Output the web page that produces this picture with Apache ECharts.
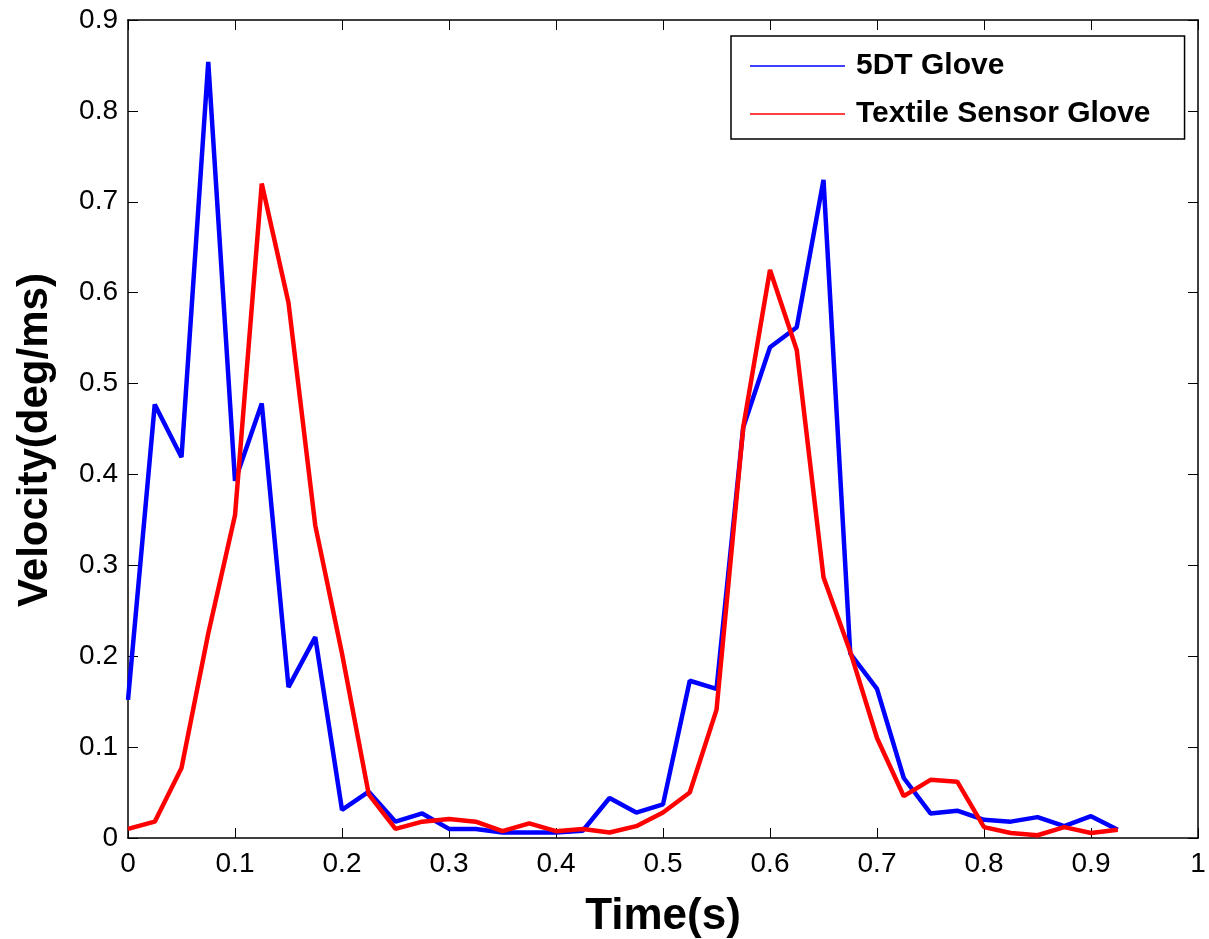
<!DOCTYPE html>
<html>
<head>
<meta charset="utf-8">
<script src="https://cdn.jsdelivr.net/npm/echarts@6/dist/echarts.min.js"></script>
<style>html,body{margin:0;padding:0;background:#fff}#c{width:1209px;height:939px}</style>
</head>
<body>
<div id="c"></div>
<script>
var times = [0, 0.025, 0.05, 0.075, 0.1, 0.125, 0.15, 0.175, 0.2, 0.225, 0.25, 0.275, 0.3, 0.325, 0.35, 0.375, 0.4, 0.425, 0.45, 0.475, 0.5, 0.525, 0.55, 0.575, 0.6, 0.625, 0.65, 0.675, 0.7, 0.725, 0.75, 0.775, 0.8, 0.825, 0.85, 0.875, 0.9, 0.925];
var glove5DT = [0.152, 0.477, 0.419, 0.854, 0.393, 0.478, 0.166, 0.221, 0.031, 0.051, 0.018, 0.027, 0.010, 0.010, 0.006, 0.006, 0.006, 0.008, 0.044, 0.028, 0.037, 0.173, 0.164, 0.452, 0.540, 0.562, 0.724, 0.203, 0.164, 0.066, 0.027, 0.030, 0.020, 0.018, 0.023, 0.013, 0.024, 0.009];
var textileGlove = [0.010, 0.018, 0.077, 0.225, 0.355, 0.720, 0.589, 0.344, 0.203, 0.048, 0.010, 0.018, 0.021, 0.018, 0.0075, 0.016, 0.0075, 0.010, 0.006, 0.013, 0.028, 0.050, 0.141, 0.452, 0.625, 0.537, 0.287, 0.205, 0.110, 0.046, 0.064, 0.062, 0.012, 0.0055, 0.003, 0.012, 0.0055, 0.009];
var seriesNames = ['5DT Glove', 'Textile Sensor Glove'];
var xTitle = 'Time(s)';
var yTitle = 'Velocity(deg/ms)';

function pairs(ys) { return times.map(function (t, i) { return [t, ys[i]]; }); }

var FONT = 'Liberation Sans, Arial, Helvetica, sans-serif';
var chart = echarts.init(document.getElementById('c'), null, { renderer: 'canvas' });
var axisLine = { show: true, onZero: false, lineStyle: { color: '#000', width: 1.5 } };
var tick = { show: true, inside: true, length: 10, lineStyle: { color: '#000', width: 1 } };
chart.setOption({
  backgroundColor: '#fff',
  animation: false,
  grid: { left: 128, right: 11, top: 20, bottom: 101, containLabel: false, outerBoundsMode: 'none' },
  legend: {
    data: seriesNames,
    orient: 'vertical',
    left: 731,
    top: 36,
    padding: [15, 34, 10, 19],
    itemGap: 18,
    itemWidth: 95,
    itemHeight: 1.5,
    icon: 'rect',
    borderColor: '#000',
    borderWidth: 1.5,
    backgroundColor: '#fff',
    textStyle: { fontFamily: FONT, fontSize: 30, fontWeight: 'bold', color: '#000', padding: [0, 0, 0, 6] }
  },
  xAxis: [{
    type: 'value', min: 0, max: 1, interval: 0.1,
    name: xTitle, nameLocation: 'middle', nameGap: 57,
    nameTextStyle: { fontFamily: FONT, fontSize: 44, fontWeight: 'bold', color: '#000' },
    axisLine: axisLine, axisTick: tick,
    axisLabel: { fontFamily: FONT, fontSize: 28, color: '#000', margin: 12 },
    splitLine: { show: false }
  }, {
    type: 'value', position: 'top', min: 0, max: 1, interval: 0.1,
    axisLine: axisLine, axisTick: tick, axisLabel: { show: false }, splitLine: { show: false }
  }],
  yAxis: [{
    type: 'value', min: 0, max: 0.9, interval: 0.1,
    name: yTitle, nameLocation: 'middle', nameGap: 72, nameRotate: 90,
    nameTextStyle: { fontFamily: FONT, fontSize: 42, fontWeight: 'bold', color: '#000', padding: [0, 22, 0, 0] },
    axisLine: axisLine, axisTick: tick,
    axisLabel: { fontFamily: FONT, fontSize: 28, color: '#000', margin: 10 },
    splitLine: { show: false }
  }, {
    type: 'value', position: 'right', min: 0, max: 0.9, interval: 0.1,
    axisLine: axisLine, axisTick: tick, axisLabel: { show: false }, splitLine: { show: false }
  }],
  series: [{
    name: seriesNames[0], type: 'line', data: pairs(glove5DT),
    showSymbol: false, symbol: 'none', color: '#0000ff',
    lineStyle: { color: '#0000ff', width: 4.5 }, z: 2
  }, {
    name: seriesNames[1], type: 'line', data: pairs(textileGlove),
    showSymbol: false, symbol: 'none', color: '#ff0000',
    lineStyle: { color: '#ff0000', width: 4.5 }, z: 3
  }]
});
</script>
</body>
</html>
